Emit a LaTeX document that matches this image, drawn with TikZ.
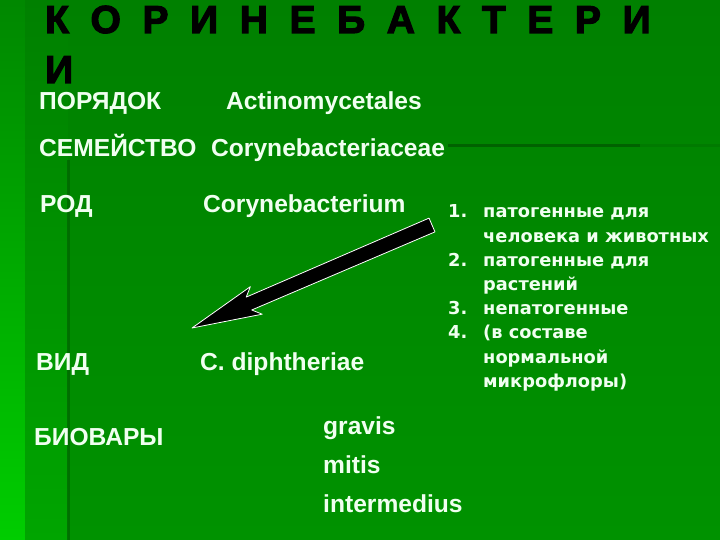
\documentclass[tikz,border=0pt]{standalone}
\usepackage{fontspec}
\setmainfont{Liberation Sans}
\newfontfamily\listfont{DejaVu Sans}
\newfontfamily\titlefont[BoldFeatures={FakeBold=3}]{Liberation Sans}
\usetikzlibrary{calc}
\definecolor{bgtop}{RGB}{0,128,0}
\definecolor{bgbottom}{RGB}{0,146,0}
\definecolor{stripgreen}{RGB}{0,205,0}
\definecolor{midgreen}{RGB}{0,165,0}
\definecolor{linegreen}{RGB}{0,98,0}
\definecolor{txtwhite}{RGB}{240,255,240}
\tikzset{rank/.style={anchor=base west, inner sep=0pt, text=txtwhite,
    font=\fontsize{24.6}{28}\selectfont\bfseries}}
\tikzset{heading/.style={anchor=base west, inner sep=0pt, text=black,
    font=\titlefont\bfseries\fontsize{39}{50}\selectfont}}
\tikzset{rule/.style={draw=linegreen, line width=3pt}}

\begin{document}
\begin{tikzpicture}[x=1pt, y=-1pt]
  \useasboundingbox (0,0) rectangle (720,540);
  % background
  \shade[top color=bgtop, bottom color=bgbottom] (0,0) rectangle (720,540);
  \shade[top color=bgtop!90!stripgreen, bottom color=stripgreen] (0,0) rectangle (25,540);
  \shade[top color=bgtop, bottom color=midgreen] (25,0) rectangle (68,540);
  \draw[rule, draw opacity=.7] (68,160) -- (68,540);
  \draw[rule] (448,146) -- (640,146);
  \draw[rule, draw opacity=.3] (640,146) -- (720,146);

  \node[heading] (title) at (45,33) {\spaceskip=21.6pt\relax К О Р И Н Е Б А К Т Е Р И};
  \node[heading] (titlecont) at (45,83) {И};

  \node[rank] (order) at (39,110) {ПОРЯДОК};
  \node[rank] (ordername) at (226,110) {Actinomycetales};
  \node[rank] (family) at (39,157) {СЕМЕЙСТВО};
  \node[rank] (familyname) at (211,157) {Corynebacteriaceae};
  \node[rank] (genus) at (40,213) {РОД};
  \node[rank] (genusname) at (203,213) {Corynebacterium};
  \node[rank] (species) at (36,370) {ВИД};
  \node[rank] (speciesname) at (200,370) {C. diphtheriae};
  \node[rank] (biovars) at (34,445) {БИОВАРЫ};
  \node[rank] (gravis) at (323,434) {gravis};
  \node[rank] (mitis) at (323,473) {mitis};
  \node[rank] (intermedius) at (323,512) {intermedius};

  \node[anchor=base west, inner sep=0pt, text=txtwhite,
    font=\listfont\bfseries\fontsize{17.8}{24.2}\selectfont] (groups) at (448,218) {%
    \begin{tabular}[t]{@{}p{35pt}@{}l@{}}
      1. & патогенные для\\
         & человека и животных\\
      2. & патогенные для\\
         & растений\\
      3. & непатогенные\\
      4. & (в составе\\
         & нормальной\\
         & микрофлоры)
    \end{tabular}};

  % arrow
  \coordinate (arrtail) at (432,225);
  \coordinate (arrtip) at (192,328);
  \coordinate (neck) at ($(arrtip)!62pt!(arrtail)$);
  \coordinate (barb) at ($(arrtip)!70pt!(arrtail)$);
  \draw[white, fill=black, line width=.8pt, line join=round]
    ($(arrtail)!7.5pt!90:(arrtip)$) -- ($(neck)!7pt!90:(arrtip)$)
    -- ($(barb)!15pt!90:(arrtip)$) -- (arrtip)
    -- ($(barb)!15pt!-90:(arrtip)$) -- ($(neck)!7pt!-90:(arrtip)$)
    -- ($(arrtail)!7.5pt!-90:(arrtip)$) -- cycle;
\end{tikzpicture}
\end{document}
